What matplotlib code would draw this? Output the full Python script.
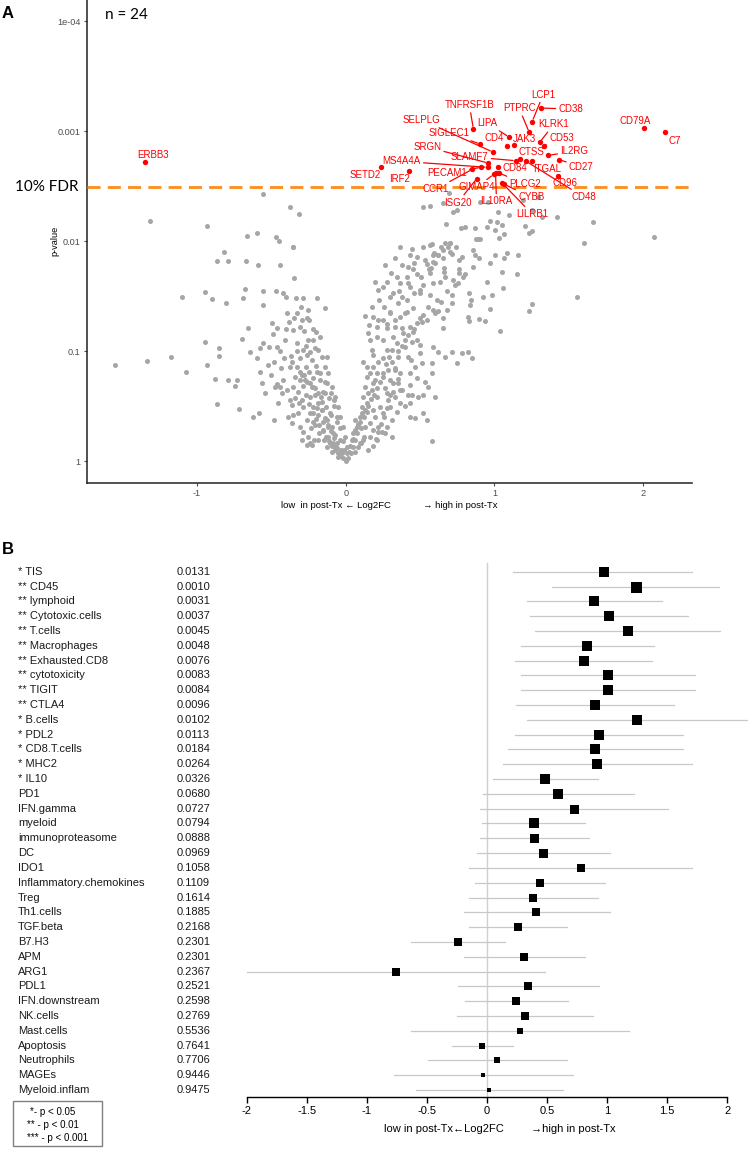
import numpy as np
import matplotlib.pyplot as plt
from matplotlib.patches import Rectangle

plt.rcParams['font.family'] = ['Liberation Sans', 'DejaVu Sans']

# ---------------- panel A: volcano ----------------
red_genes = ['ERBB3', 'SETD2', 'IRF2', 'CCR1', 'ISG20', 'PECAM1', 'SIGLEC1', 'TNFRSF1B',
             'SRGN', 'MS4A4A', 'SELPLG', 'GIMAP4', 'IL10RA', 'CD84', 'PLCG2', 'LILRB1',
             'CYBB', 'CD4', 'LIPA', 'JAK3', 'SLAMF7', 'CTSS', 'CD48', 'PTPRC', 'ITGAL',
             'LCP1', 'KLRK1', 'CD38', 'CD53', 'IL2RG', 'CD96', 'CD27', 'CD79A', 'C7']
red_log2fc = [-1.348, 0.237, 0.428, 0.851, 0.881, 0.910, 0.903, 0.858, 0.957, 0.954, 0.989,
              0.994, 1.007, 1.022, 1.031, 1.053, 1.067, 1.083, 1.098, 1.132, 1.143, 1.172,
              1.210, 1.233, 1.249, 1.253, 1.304, 1.311, 1.330, 1.362, 1.426, 1.436, 2.006, 2.145]
red_nlp = [2.715, 2.670, 2.636, 2.652, 2.568, 2.670, 2.882, 3.018, 2.709, 2.670, 2.809,
           2.606, 2.614, 2.670, 2.618, 2.525, 2.515, 2.868, 2.945, 2.877, 2.730, 2.747,
           2.727, 2.989, 2.727, 3.085, 2.897, 3.209, 2.862, 2.779, 2.591, 2.739, 3.027, 2.991]

grey_log2fc = [
    -1.318, -0.933, -0.554, -0.375, -0.316, -0.662, -0.594, -0.469, -0.447, -0.352,
    0.444, 0.518, 0.567, 0.522, 0.567, 0.656, 0.697, 0.724, 0.751, 0.674, 0.776, 0.802,
    0.872, 0.948, 0.970, 1.015, 1.049, 1.004, 1.065, 1.033, 0.903, 0.959, 1.026, 1.194,
    1.251, 1.295, 1.206, 1.251, 1.235, 1.419, 1.318, 1.661, 1.603, 2.073, 0.578, 0.594,
    0.668, 0.701, 0.690, 0.623, 0.713, 0.780, 0.876, 0.903, 1.004, 1.083, 1.161, 0.870,
    0.892, 0.701, 1.100,
    0.432, 0.652, 0.589, 0.623, 0.656, 0.762, 0.533, 0.477, 0.545, 0.421, 0.377, 0.455,
    0.572, 0.663, 0.589, 0.854, 0.898, 0.970, 1.065, 1.049, 1.150, 0.858, 0.764, 0.791,
    0.757, 0.303, 0.343, 0.410, 0.504, 0.567, 0.668, 0.500, 0.589, 0.634, 0.735, 0.432,
    0.461, 0.377, 0.298, 0.258, 0.500, 0.567, 0.612, 0.713, 0.831, 0.841, 0.836, 0.921,
    0.982, 1.060, 0.948, 1.251, 1.235, 1.558, 0.970, 0.898, 0.937, 1.038, 0.825, 0.831,
    0.656, 0.656, 0.679, 0.713, 0.589, 0.623, 0.522, 0.455, 0.410, 0.332, 0.365, 0.276,
    0.332, 0.377, 0.432, 0.477, 0.511, 0.545, 0.387, 0.455, 0.482, 0.444, 0.500, 0.343,
    0.399, 0.309, 0.253, 0.421, 0.437, 0.500, 0.589, 0.623, 0.668, 0.713, 0.780, 0.825,
    0.847, 0.746, 0.578, 0.578, 0.511, 0.466, 0.432, 0.477, 0.533, 0.556, 0.332, 0.298,
    0.354, 0.432, 0.444, 0.522, 0.488, 0.601, 0.432, 0.432, 0.466, 0.522, 0.545, 0.578,
    0.320, 0.365, 0.276, 0.332, 0.365, 0.298, 0.343, 0.253, 0.309, 0.276, 0.242, 0.309,
    0.264,
    -1.551, -1.334, -1.175, -1.076, -1.103, -0.946, -0.897, -0.946, -0.935, -0.879,
    -0.863, -0.850, -0.850, -0.816, -0.868, -0.794, -0.805, -0.794, -0.744, -0.733,
    -0.716, -0.699, -0.689, -0.677, -0.670, -0.655, -0.644, -0.621, -0.599, -0.592,
    -0.583, -0.576, -0.576, -0.565, -0.558, -0.554, -0.554, -0.543, -0.521, -0.514,
    -0.498, -0.491, -0.482, -0.475, -0.471, -0.464, -0.460, -0.453, -0.442, -0.437,
    -0.430, -0.420, -0.415, -0.408, -0.403, -0.397, -0.393, -0.386, -0.379, -0.375,
    -0.370, -0.363, -0.363, -0.356, -0.352, -0.348, -0.341, -0.334, -0.330, -0.325,
    -0.319, -0.312, -0.307, -0.303, -0.296, -0.296, -0.289, -0.285, -0.280, -0.274,
    -0.267, -0.262, -0.258, -0.254, -0.251, -0.245, -0.240, -0.235, -0.229, -0.222,
    -0.218, -0.213, -0.206, -0.200, -0.195, -0.191, -0.184, -0.178, -0.173, -0.168,
    -0.161, -0.155, -0.151, -0.144, -0.139, -0.139, -0.132, -0.128, -0.124, -0.117,
    -0.110, -0.106, -0.101, -0.094, -0.083, -0.079, -0.072, -0.061, -0.050, -0.038,
    -0.027, -0.016, 0.000, 0.018, 0.034, 0.051, 0.063, 0.074, 0.085, 0.096, 0.108,
    0.118, 0.130, 0.141, 0.118, 0.132, 0.155, 0.199, 0.163, 0.175, 0.186, 0.197, 0.163,
    0.186, 0.208, 0.219, 0.208, 0.224, 0.213, 0.096,
    -0.330, -0.307, -0.280, -0.245, -0.218, -0.206, -0.240, -0.184, -0.161, -0.139,
    -0.195, -0.161, -0.128, -0.094, -0.117, -0.083, -0.061, -0.072, -0.106, -0.151,
    -0.206, -0.240, -0.285, -0.296, -0.341, -0.375, -0.352, -0.319, -0.285, -0.251,
    -0.240, -0.218, -0.184, -0.229, -0.296, -0.352, -0.420, -0.442, -0.307, -0.218,
    -0.184, -0.173, -0.240, -0.262, -0.128, -0.117, -0.094, -0.072, -0.050, -0.038,
    -0.016, -0.005, 0.007, 0.007,
    0.040, 0.051, 0.074, 0.063, 0.096, 0.108, 0.130, 0.141, 0.152, 0.175, 0.186, 0.163,
    0.208, 0.141, 0.186, 0.219, 0.152, 0.208, 0.186, 0.219, 0.175, 0.219, 0.163, 0.130,
    0.118, 0.085, 0.063, 0.186, 0.197, 0.231,
    0.287, 0.264, 0.320, 0.253, 0.287, 0.365, 0.276, 0.354, 0.253, 0.320, 0.399, 0.253,
    0.298, 0.354, 0.320, 0.410, 0.253, 0.276, 0.365, 0.264, 0.332, 0.365,
    -0.27, -0.25, -0.22, -0.20, -0.18, -0.15, -0.13, -0.11, -0.09, -0.07, -0.05, -0.04,
    -0.03, -0.06, -0.08, -0.10, -0.12, -0.14, -0.16, -0.19, -0.21, -0.23, -0.26, -0.29,
    -0.31, -0.20, -0.17, -0.14, -0.10, -0.08, -0.06, -0.04, -0.02, -0.01,
    -0.36, -0.33, -0.27, -0.22, -0.26, -0.31, -0.35, -0.40, -0.44, -0.48, -0.50, -0.46,
    0.02, 0.03, 0.05, 0.06, 0.08, 0.10, 0.12, 0.14, 0.15, 0.17, 0.19, 0.21, 0.23, 0.25,
    0.27, 0.29, 0.31, 0.33, 0.35, 0.38, 0.40, 0.42, 0.30, 0.28, 0.26, 0.24, 0.22, 0.20,
    0.18, 0.15, 0.12, 0.10,
    0.35, 0.38, 0.42, 0.46, 0.50, 0.55, 0.60, 0.64, 0.68, 0.72, 0.76, 0.80, 0.52, 0.48,
    0.56, 0.60, 0.66, 0.70, 0.74, 0.64, 0.46, 0.42, 0.36, 0.30, 0.28, 0.40]

grey_nlp = [
    2.185, 2.136, 2.424, 2.306, 2.243, 2.048, 2.075, 2.039, 2.000, 1.945,
    1.925, 1.948, 1.964, 2.312, 2.321, 2.348, 2.434, 2.266, 2.282, 2.155, 2.115, 2.130,
    2.115, 2.124, 2.185, 2.176, 2.145, 2.100, 2.064, 2.027, 2.357, 2.357, 2.266, 2.373,
    2.282, 2.403, 2.139, 2.094, 2.070, 2.221, 2.221, 2.176, 1.979, 2.034, 1.970, 1.888,
    1.985, 1.985, 1.948, 1.873, 1.879, 1.857, 2.018, 2.018, 1.873, 1.894, 1.873, 1.873,
    2.015, 1.979, 2.236,
    1.873, 1.918, 1.873, 1.873, 1.842, 1.827, 1.827, 1.857, 1.791, 1.766, 1.782, 1.742,
    1.752, 1.752, 1.812, 1.918, 1.842, 1.803, 1.842, 1.721, 1.700, 1.766, 1.706, 1.670,
    1.615, 1.712, 1.676, 1.676, 1.676, 1.706, 1.676, 1.555, 1.615, 1.630, 1.600, 1.585,
    1.530, 1.494, 1.494, 1.403, 1.524, 1.509, 1.464, 1.509, 1.524, 1.464, 1.418, 1.488,
    1.509, 1.576, 1.630, 1.425, 1.366, 1.488, 1.379, 1.291, 1.273, 1.179, 1.306, 1.273,
    1.297, 1.206, 1.373, 1.433, 1.373, 1.366, 1.327, 1.388, 1.358, 1.282, 1.312, 1.206,
    1.221, 1.206, 1.221, 1.252, 1.267, 1.282, 1.161, 1.176, 1.100, 1.085, 1.055, 1.070,
    1.039, 1.009, 0.934, 0.948, 0.918, 0.979, 1.039, 0.994, 0.948, 0.994, 0.979, 0.994,
    0.934, 0.888, 0.888, 0.797, 0.888, 0.857, 0.797, 0.752, 0.721, 0.676, 0.827, 0.736,
    0.706, 0.691, 0.600, 0.600, 0.585, 0.585, 0.524, 0.403, 0.388, 0.433, 0.373, 0.182,
    0.706, 0.645, 0.615, 0.585, 0.524, 0.494, 0.448, 0.433, 0.373, 0.312, 0.267, 0.221,
    0.252,
    0.873, 0.909, 0.948, 0.812, 1.488, 1.539, 1.470, 1.079, 0.870, 0.743,
    0.518, 1.024, 0.955, 1.897, 1.821, 1.821, 1.433, 0.736, 0.685, 0.736,
    0.473, 1.106, 1.479, 1.564, 1.815, 1.206, 0.988, 0.403, 0.934, 1.782,
    0.433, 0.812, 1.024, 0.706, 1.548, 1.418, 1.070, 0.621, 0.873, 1.039,
    1.252, 1.155, 0.373, 0.670, 1.548, 1.206, 1.039, 0.530, 1.782, 0.842,
    0.615, 1.524, 0.934, 1.100, 1.494, 0.645, 1.342, 0.403, 1.267, 0.857,
    0.955, 0.343, 0.509, 1.948, 1.191, 1.661, 0.767, 1.479, 1.342, 1.070,
    0.630, 0.524, 0.312, 1.403, 0.191, 1.282, 1.479, 1.009, 1.185, 0.736,
    0.857, 0.373, 0.145, 1.373, 1.100, 1.282, 0.585, 0.297, 0.918, 0.676,
    0.494, 0.191, 1.024, 1.176, 1.479, 0.812, 0.418, 0.252, 0.736, 0.585,
    0.948, 0.358, 0.630, 0.191, 1.388, 0.857, 0.494, 0.130, 0.706, 0.312,
    0.570, 0.161, 0.418, 0.085, 0.252, 0.555, 0.130, 0.358, 0.039, 0.191,
    0.070, 0.025, 0.003, 0.025, 0.070, 0.130, 0.191, 0.252, 0.327, 0.403, 0.494,
    0.585, 0.676, 0.767, 0.903, 1.318, 1.236, 1.630, 1.100, 1.009, 0.857, 0.736, 0.343,
    0.464, 0.585, 0.312, 0.191, 1.464, 1.221, 0.161,
    0.857, 0.812, 0.782, 0.812, 0.752, 0.661, 0.706, 0.615, 0.539, 0.615,
    0.479, 0.464, 0.373, 0.312, 0.221, 0.161, 0.115, 0.236, 0.433, 0.282,
    0.327, 0.433, 0.494, 0.555, 0.570, 0.555, 0.418, 0.433, 0.267, 0.221,
    0.161, 0.358, 0.191, 0.145, 0.782, 0.676, 0.736, 0.676, 0.934, 1.100,
    1.009, 1.130, 0.994, 0.964, 0.948, 0.797, 0.676, 0.585, 0.494, 0.403,
    0.312, 0.221, 0.130, 0.070,
    0.191, 0.252, 0.312, 0.373, 0.358, 0.433, 0.464, 0.524, 0.615, 0.645, 0.706, 0.797,
    0.797, 0.857, 0.964, 0.903, 1.161, 1.130, 1.312, 1.282, 1.403, 1.555, 0.221, 0.312,
    0.191, 0.130, 0.085, 0.282, 0.403, 0.494,
    0.555, 0.661, 0.630, 0.767, 0.827, 0.797, 1.009, 0.948, 1.100, 1.130, 1.100, 1.282,
    1.358, 1.433, 1.524, 1.464, 1.585, 1.630, 1.615, 1.782, 1.842, 1.948,
    0.60, 0.52, 0.44, 0.38, 0.33, 0.27, 0.22, 0.18, 0.14, 0.10, 0.07, 0.05,
    0.10, 0.16, 0.21, 0.27, 0.33, 0.39, 0.46, 0.53, 0.60, 0.67, 0.72, 0.68,
    0.74, 0.86, 0.80, 0.72, 0.62, 0.50, 0.40, 0.30, 0.18, 0.10,
    0.90, 1.00, 1.05, 1.20, 1.30, 1.22, 1.30, 1.20, 1.00, 0.90, 0.78, 0.70,
    0.08, 0.14, 0.20, 0.28, 0.34, 0.30, 0.40, 0.45, 0.50, 0.56, 0.60, 0.66, 0.72, 0.80,
    0.88, 0.95, 0.90, 0.85, 0.75, 0.65, 0.50, 0.60, 0.60, 0.48, 0.40, 0.34, 0.26, 0.20,
    0.14, 0.10, 0.22, 0.16,
    1.00, 1.05, 1.15, 1.20, 1.30, 1.40, 1.35, 1.45, 1.55, 1.65, 1.75, 1.70, 1.60, 1.70,
    1.75, 1.80, 1.72, 1.90, 1.95, 1.95, 1.80, 1.62, 1.55, 1.35, 1.25, 1.35]

fdr_nlp = 2.494

# label offsets (pixels from point), not data
label_off = {
    'ERBB3': (8, 7), 'SETD2': (-16, -8), 'IRF2': (-10, -8), 'CCR1': (-37, -20),
    'ISG20': (-19, -24), 'PECAM1': (-34, -6), 'SIGLEC1': (-31, 11), 'TNFRSF1B': (-4, 24),
    'SRGN': (-61, 16), 'MS4A4A': (-86, 6), 'SELPLG': (-71, 32), 'GIMAP4': (-17, -13),
    'IL10RA': (1, -28), 'CD84': (17, -1), 'PLCG2': (26, -11), 'LILRB1': (30, -31),
    'CYBB': (27, -13), 'CD4': (-13, 8), 'LIPA': (-22, 14), 'JAK3': (10, 6),
    'SLAMF7': (-46, 4), 'CTSS': (11, 7), 'CD48': (58, -36), 'PTPRC': (-10, 24),
    'ITGAL': (16, -8), 'LCP1': (11, 27), 'KLRK1': (14, 18), 'CD38': (30, -1),
    'CD53': (18, 8), 'IL2RG': (26, 4), 'CD96': (7, -7), 'CD27': (22, -7),
    'CD79A': (-9, 7), 'C7': (10, -9)}
no_line = {'ERBB3', 'SETD2', 'IRF2', 'CD84', 'CTSS', 'JAK3', 'CD96', 'ITGAL', 'CD79A', 'C7'}

# ---------------- panel B: forest ----------------
sig_names = ['* TIS', '** CD45', '** lymphoid', '** Cytotoxic.cells', '** T.cells',
             '** Macrophages', '** Exhausted.CD8', '** cytotoxicity', '** TIGIT', '** CTLA4',
             '* B.cells', '* PDL2', '* CD8.T.cells', '* MHC2', '* IL10', 'PD1', 'IFN.gamma',
             'myeloid', 'immunoproteasome', 'DC', 'IDO1', 'Inflammatory.chemokines', 'Treg',
             'Th1.cells', 'TGF.beta', 'B7.H3', 'APM', 'ARG1', 'PDL1', 'IFN.downstream',
             'NK.cells', 'Mast.cells', 'Apoptosis', 'Neutrophils', 'MAGEs', 'Myeloid.inflam']
sig_p = ['0.0131', '0.0010', '0.0031', '0.0037', '0.0045', '0.0048', '0.0076', '0.0083',
         '0.0084', '0.0096', '0.0102', '0.0113', '0.0184', '0.0264', '0.0326', '0.0680',
         '0.0727', '0.0794', '0.0888', '0.0969', '0.1058', '0.1109', '0.1614', '0.1885',
         '0.2168', '0.2301', '0.2301', '0.2367', '0.2521', '0.2598', '0.2769', '0.5536',
         '0.7641', '0.7706', '0.9446', '0.9475']
est = [0.97, 1.24, 0.89, 1.015, 1.17, 0.835, 0.805, 1.005, 1.01, 0.90, 1.245, 0.93, 0.90,
       0.915, 0.485, 0.595, 0.725, 0.39, 0.395, 0.47, 0.78, 0.445, 0.385, 0.41, 0.255,
       -0.245, 0.31, -0.76, 0.34, 0.245, 0.315, 0.275, -0.04, 0.085, -0.03, 0.02]
ci_lo = [0.22, 0.54, 0.33, 0.36, 0.40, 0.28, 0.235, 0.285, 0.285, 0.245, 0.33, 0.235, 0.175,
         0.13, 0.05, -0.035, -0.055, -0.04, -0.055, -0.08, -0.15, -0.097, -0.152, -0.195,
         -0.152, -0.635, -0.19, -2.0, -0.245, -0.185, -0.25, -0.635, -0.295, -0.49, -0.77,
         -0.595]
ci_hi = [1.71, 1.93, 1.46, 1.67, 1.94, 1.39, 1.375, 1.73, 1.735, 1.56, 2.18, 1.635, 1.635,
         1.705, 0.925, 1.225, 1.51, 0.815, 0.845, 1.02, 1.71, 0.985, 0.925, 1.02, 0.665,
         0.15, 0.815, 0.485, 0.93, 0.675, 0.88, 1.18, 0.215, 0.665, 0.715, 0.635]
# box side in pixels (style)
box_px = [10, 11, 10, 10, 10, 10, 10, 10, 10, 10, 10.3, 10, 10, 9.5, 9.5, 9.3, 9, 9.3, 9,
          9, 8.7, 8.5, 8, 8, 8, 8, 7.5, 8, 7.5, 7.5, 7.5, 6.5, 5.3, 5.3, 4, 4]

W, H = 748, 1152
fig = plt.figure(figsize=(W / 100, H / 100), dpi=100)


def px_rect(l, t, r, b):
    return [l / W, 1 - b / H, (r - l) / W, (b - t) / H]


def fx(x):
    return x / W


def fy(y):
    return 1 - y / H


# ---- panel A
ax = fig.add_axes(px_rect(87, 0, 692.3, 482.7))
grey_p = 10 ** (-np.array(grey_nlp))
red_p = 10 ** (-np.array(red_nlp))
ax.scatter(grey_log2fc, grey_p, s=13, c='#A6A6A6', linewidths=0, zorder=2)
ax.axhline(10 ** -fdr_nlp, color='#FF8C1A', lw=2, dashes=(4.7, 2.6), zorder=3)
ax.scatter(red_log2fc, red_p, s=15, c='#FF0000', linewidths=0, zorder=4)
for g, x, p in zip(red_genes, red_log2fc, red_p):
    dx, dy = label_off[g]
    arrow = None if g in no_line else dict(arrowstyle='-', color='#FF0000', lw=0.9,
                                           shrinkA=0, shrinkB=2)
    ax.annotate(g, (x, p), xytext=(dx, dy), textcoords='offset pixels', ha='center',
                va='center', color='#FF0000', fontsize=7, arrowprops=arrow, zorder=5)

ax.set_yscale('log')
ax.set_ylim(1.575, 6.44e-5)
ax.set_xlim(-1.74, 2.33)
ax.set_yticks([1e-4, 1e-3, 1e-2, 1e-1, 1])
ax.set_yticklabels(['1e-04', '0.001', '0.01', '0.1', '1'])
ax.yaxis.set_minor_locator(plt.NullLocator())
ax.set_xticks([-1, 0, 1, 2])
ax.set_xticklabels(['-1', '0', '1', '2'])
for s in ['top', 'right']:
    ax.spines[s].set_visible(False)
for s in ['left', 'bottom']:
    ax.spines[s].set_color('#222222')
    ax.spines[s].set_linewidth(1.1)
ax.tick_params(colors='#4D4D4D', labelsize=6.6, length=2.5, width=0.8, pad=2)

fig.text(fx(55), fy(241), 'p-value', rotation=90, ha='center', va='center', fontsize=6.6)
fig.text(fx(281), fy(506), 'low  in post-Tx \u2190 Log2FC', ha='left', va='center', fontsize=6.8)
fig.text(fx(423), fy(506), '\u2192 high in post-Tx', ha='left', va='center', fontsize=6.8)
fig.text(fx(15), fy(186.7), '10% FDR', ha='left', va='center', fontsize=11,
         family=['Lato', 'DejaVu Sans'])
fig.text(fx(105), fy(15), 'n = 24', ha='left', va='center', fontsize=11,
         family=['Lato', 'DejaVu Sans'])
fig.text(fx(2), fy(13), 'A', ha='left', va='center', fontsize=12, fontweight='bold')
fig.text(fx(2), fy(549), 'B', ha='left', va='center', fontsize=12, fontweight='bold')

# ---- panel B
row0, step = 571.7, 14.81
top_px, bot_px = 556, 1096.7
bx = fig.add_axes(px_rect(246.7, top_px, 727.3, bot_px))
rows = np.arange(len(sig_names))
bx.set_xlim(-2, 2)
bx.set_ylim((bot_px - row0) / step, (top_px - row0) / step)
bx.plot([0, 0], [(563 - row0) / step, (bot_px - row0) / step], color='#CFCFCF', lw=1,
        zorder=1)
for i in rows:
    bx.plot([ci_lo[i], ci_hi[i]], [i, i], color='#C8C8C8', lw=0.9, zorder=2, clip_on=False)
    bx.plot([est[i]], [i], marker='s', ms=box_px[i] * 0.72, color='black', mew=0, zorder=3)
for s in ['top', 'right', 'left']:
    bx.spines[s].set_visible(False)
bx.spines['bottom'].set_linewidth(1)
bx.set_yticks([])
ticks = [-2, -1.5, -1, -0.5, 0, 0.5, 1, 1.5, 2]
bx.set_xticks(ticks)
bx.set_xticklabels(['-2', '-1.5', '-1', '-0.5', '0', '0.5', '1', '1.5', '2'])
bx.tick_params(axis='x', length=4, width=1, labelsize=8, pad=3)

for i in rows:
    y = fy(row0 + i * step)
    fig.text(fx(18), y, sig_names[i], ha='left', va='center', fontsize=8, color='#1A1A1A')
    fig.text(fx(177), y, sig_p[i], ha='left', va='center', fontsize=8, color='#1A1A1A')

fig.text(fx(384), fy(1128.5), 'low in post-Tx\u2190Log2FC', ha='left', va='center', fontsize=8)
fig.text(fx(531), fy(1128.5), '\u2192high in post-Tx', ha='left', va='center', fontsize=8)

fig.patches.append(Rectangle((fx(13), fy(1146)), fx(101.7) - fx(13), fy(1101) - fy(1146),
                             transform=fig.transFigure, fill=False, edgecolor='#808080', lw=1))
for txt, x0, yy in [('*- p < 0.05', 30, 1112), ('** - p < 0.01', 27, 1125),
                    ('*** - p < 0.001', 27, 1138)]:
    fig.text(fx(x0), fy(yy), txt, ha='left', va='center', fontsize=7)

fig.savefig('out.png', dpi=100)
